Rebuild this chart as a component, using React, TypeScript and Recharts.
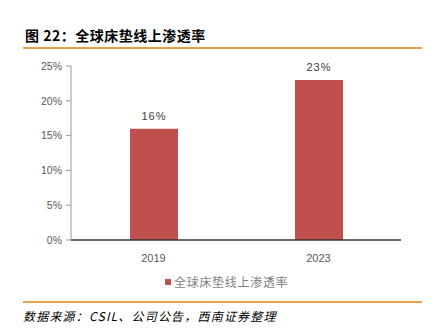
import React from "react";
import { BarChart, Bar, XAxis, YAxis, LabelList } from "recharts";

const categories = ["2019", "2023"];
const penetration = [0.16, 0.23];
const yTicks = [0, 0.05, 0.1, 0.15, 0.2, 0.25];
const seriesName = "全球床垫线上渗透率";
const title = "图 22：全球床垫线上渗透率";
const source = "数据来源：CSIL、公司公告，西南证券整理";

const data = categories.map((c, i) => ({ year: c, value: penetration[i] }));
const pct = (v: number) => `${Math.round(v * 100)}%`;

export default function App() {
  return (
    <div style={{ position: "absolute", left: 0, top: 0, width: 432, height: 332, background: "#fff", overflow: "hidden" }}>
      <div style={{ position: "absolute", left: 25, top: 26, fontFamily: "'Noto Sans CJK SC', sans-serif", fontWeight: 700, fontSize: 14, color: "#000", lineHeight: "18px", letterSpacing: 0.5, whiteSpace: "nowrap" }}>
        {title}
      </div>
      <div style={{ position: "absolute", left: 23, top: 47, width: 399, height: 2, background: "#E3A24A" }} />
      <div style={{ position: "absolute", left: 0, top: 0 }}>
        <BarChart width={432} height={332} data={data} margin={{ top: 66, right: 31, bottom: 62, left: 0 }}>
          <XAxis
            dataKey="year"
            tickLine={false}
            axisLine={{ stroke: "#333", strokeWidth: 1.5 }}
            tick={{ fill: "#595959", fontSize: 11, fontFamily: "'Liberation Sans', Arial, sans-serif" }}
            tickMargin={8}
            height={30}
          />
          <YAxis
            width={71}
            domain={[0, 0.25]}
            ticks={yTicks}
            tickFormatter={pct}
            axisLine={{ stroke: "#999" }}
            tickLine={{ stroke: "#999" }}
            tickSize={5}
            tickMargin={4}
            tick={{ fill: "#595959", fontSize: 10.5, fontFamily: "'Liberation Sans', Arial, sans-serif" }}
          />
          <Bar dataKey="value" name={seriesName} fill="#C0504D" barSize={48} isAnimationActive={false}>
            <LabelList dataKey="value" position="top" offset={9} formatter={(v: any) => pct(Number(v))} style={{ fill: "#404040", fontSize: 11, fontFamily: "'Liberation Sans', Arial, sans-serif", letterSpacing: 1 }} />
          </Bar>
        </BarChart>
      </div>
      <div style={{ position: "absolute", left: 165, top: 273, display: "flex", alignItems: "center", whiteSpace: "nowrap" }}>
        <div style={{ width: 6, height: 6, background: "#C0504D", marginRight: 3 }} />
        <span style={{ fontFamily: "'Noto Sans CJK SC', sans-serif", fontSize: 12, color: "#7f7f7f", letterSpacing: 0.7, lineHeight: "18px" }}>{seriesName}</span>
      </div>
      <div style={{ position: "absolute", left: 23, top: 301, width: 399, height: 2, background: "#E3A24A" }} />
      <div style={{ position: "absolute", left: 23, top: 307, fontFamily: "'Noto Sans CJK SC', sans-serif", fontStyle: "italic", fontSize: 12, color: "#000", letterSpacing: 1.2, lineHeight: "18px", whiteSpace: "nowrap" }}>
        {source}
      </div>
    </div>
  );
}
